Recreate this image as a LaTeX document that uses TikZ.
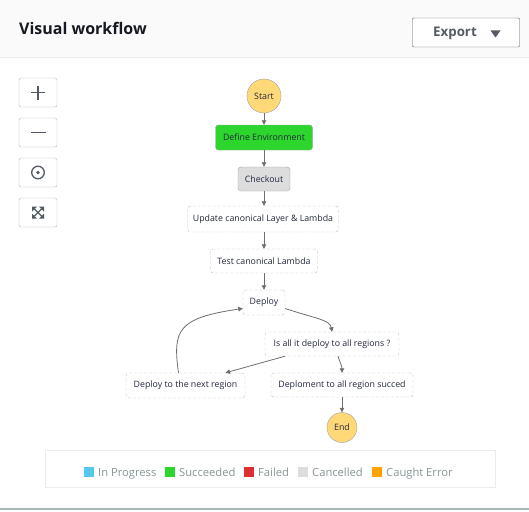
\documentclass[tikz,border=0pt]{standalone}
\usepackage{fontspec}
\setmainfont{Open Sans}
\usetikzlibrary{arrows.meta}

\begin{document}
\begin{tikzpicture}[x=1pt, y=-1pt,
    state/.style={draw=stateline, rounded corners=3pt, text=nodetext, font=\fontsize{8.8}{10}\selectfont, inner sep=0pt},
    task/.style={state, dash pattern=on 3pt off 2pt, draw=taskline, fill=white},
    endpoint/.style={circle, draw=stateline, fill=endfill, text=nodetext, font=\fontsize{8.8}{10}\selectfont, inner sep=0pt},
    flow/.style={draw=flowline, line width=0.8pt, -{Triangle[length=4.5pt,width=4.5pt]}},
    toolbtn/.style={draw=btnline, rounded corners=2pt, fill=white, minimum width=38pt, minimum height=29pt},
    legendtext/.style={anchor=base west, text=legendgray, font=\fontsize{11.2}{13}\selectfont, inner sep=0pt}]
    % Define colors
    \definecolor{headerbg}{RGB}{250,250,250}
    \definecolor{headerline}{RGB}{234,237,237}
    \definecolor{darktext}{RGB}{22,25,31}
    \definecolor{nodetext}{RGB}{35,40,62}
    \definecolor{stateline}{RGB}{160,160,160}
    \definecolor{taskline}{RGB}{190,190,190}
    \definecolor{flowline}{RGB}{110,110,110}
    \definecolor{endfill}{RGB}{255,216,120}
    \definecolor{okgreen}{RGB}{44,214,44}
    \definecolor{cancelgray}{RGB}{221,221,221}
    \definecolor{inprogblue}{RGB}{85,200,236}
    \definecolor{failedred}{RGB}{222,48,48}
    \definecolor{caughtorange}{RGB}{255,162,0}
    \definecolor{btnline}{RGB}{170,183,184}
    \definecolor{icongray}{RGB}{84,91,100}
    \definecolor{legendgray}{RGB}{135,149,150}

    \useasboundingbox (0,0) rectangle (529,511);

    % Header
    \fill[headerbg] (0,0) rectangle (529,57);
    \draw[headerline] (0,57.5) -- (529,57.5);
    \node[anchor=west, inner sep=0pt, text=darktext, font=\bfseries\fontsize{16}{18}\selectfont] (title) at (19,28) {Visual workflow};
    \node[draw=icongray, fill=white, rounded corners=1pt, minimum width=107pt, minimum height=29pt] (export) at (466,32.5) {};
    \node[anchor=west, inner sep=0pt, text=icongray, font=\bfseries\fontsize{13.3}{15}\selectfont] (exporttext) at (433,33) {Export};
    \fill[icongray] (490.5,30.5) -- (500.5,30.5) -- (495.5,37.5) -- cycle;

    % Zoom buttons
    \foreach \name/\y in {zoomin/92.5, zoomout/132.5, center/172.5, fit/212.5}
        \node[toolbtn] (\name) at (38,\y) {};
    \draw[icongray, line width=1.4pt] (31,92.5) -- (45,92.5) (38,85.5) -- (38,99.5);
    \draw[icongray, line width=1.4pt] (30.5,132.5) -- (45.5,132.5);
    \draw[icongray, line width=1.3pt] (38,172.5) circle (6.3pt);
    \fill[icongray] (38,172.5) circle (1.9pt);
    \draw[icongray, line width=1.3pt] (33.5,208) -- (42.5,217) (42.5,208) -- (33.5,217);
    \fill[icongray] (32,206.5) -- (37,206.5) -- (32,211.5) -- cycle;
    \fill[icongray] (44,206.5) -- (39,206.5) -- (44,211.5) -- cycle;
    \fill[icongray] (32,218.5) -- (37,218.5) -- (32,213.5) -- cycle;
    \fill[icongray] (44,218.5) -- (39,218.5) -- (44,213.5) -- cycle;

    % States
    \node[endpoint, minimum size=34pt] (start) at (264,96) {Start};
    \node[state, fill=okgreen, minimum width=97pt, minimum height=25pt] (define) at (264,137.5) {Define Environment};
    \node[state, fill=cancelgray, minimum width=52pt, minimum height=24pt] (checkout) at (264,179) {Checkout};
    \node[task, minimum width=151pt, minimum height=26pt] (update) at (263,219) {Update canonical Layer \& Lambda};
    \node[task, minimum width=107pt, minimum height=24pt] (test) at (264,261) {Test canonical Lambda};
    \node[task, minimum width=42pt, minimum height=25pt] (deploy) at (264,302.5) {Deploy};
    \node[task, minimum width=134pt, minimum height=24pt] (isall) at (332,344) {Is all it deploy to all regions ?};
    \node[task, minimum width=119pt, minimum height=25pt] (next) at (185.5,385.5) {Deploy to the next region};
    \node[task, minimum width=142pt, minimum height=24pt] (succ) at (342,385) {Deploment to all region succed};
    \node[endpoint, minimum size=30pt] (end) at (342,427.5) {End};

    % Transitions
    \draw[flow] (start) -- (define);
    \draw[flow] (define) -- (checkout);
    \draw[flow] (checkout) -- (update.north -| checkout);
    \draw[flow] (update.south -| test) -- (test);
    \draw[flow] (test) -- (deploy);
    \draw[flow] ([yshift=-6pt]deploy.east) .. controls +(30,10) and +(-2,-12) .. (isall.north);
    \draw[flow] ([xshift=-47pt]isall.south) -- ([xshift=40pt]next.north);
    \draw[flow] ([xshift=6pt]isall.south) .. controls +(2,6) and +(0,-6) .. (succ.north);
    \draw[flow] ([xshift=-7pt]next.north) .. controls +(-6,-43) and +(-65,9.5) .. ([yshift=-6pt]deploy.west);
    \draw[flow] (succ) -- (end);

    % Legend
    \draw[headerline, line width=0.8pt] (45,450) rectangle (495,487);
    \foreach \x/\col/\lbl in {84/inprogblue/In Progress, 165/okgreen/Succeeded, 244/failedred/Failed, 298/cancelgray/Cancelled, 372/caughtorange/Caught Error} {
        \fill[\col] (\x,467) rectangle ++(10,9.5);
        \node[legendtext] at (\x+14,476) {\lbl};
    }

    % Bottom rule
    \draw[btnline, line width=1.6pt] (0,509) -- (529,509);
\end{tikzpicture}
\end{document}
